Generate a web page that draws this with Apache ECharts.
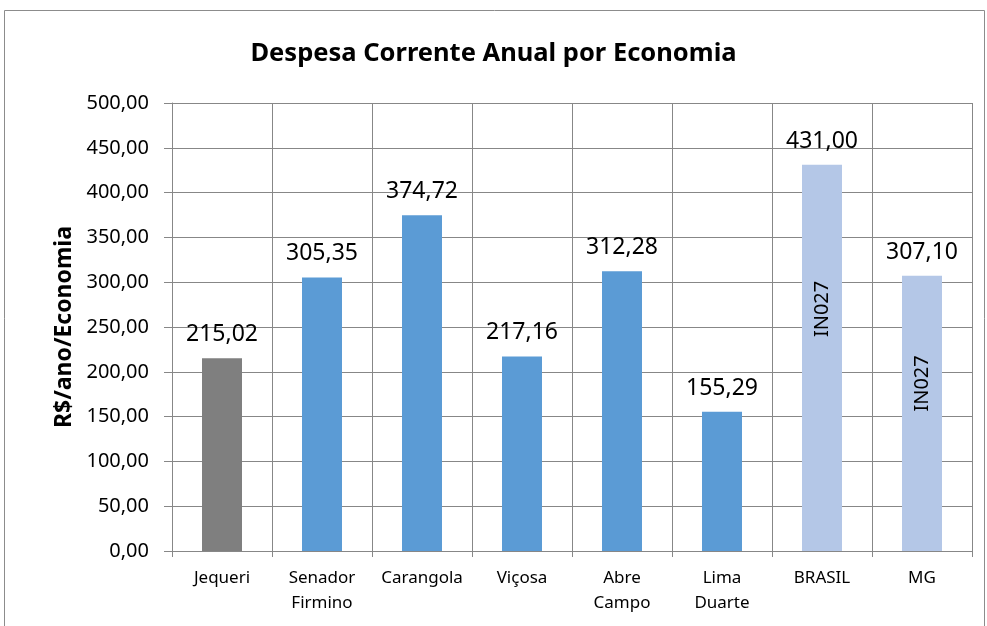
<!DOCTYPE html>
<html>
<head>
<meta charset="utf-8">
<script src="https://cdn.jsdelivr.net/npm/echarts@6/dist/echarts.min.js"></script>
<style>
  html, body { margin: 0; padding: 0; background: #fff; }
  #chart { width: 987px; height: 626px; }
</style>
</head>
<body>
<div id="chart"></div>
<script>
// dados
const categorias = ['Jequeri', 'Senador\nFirmino', 'Carangola', 'Viçosa', 'Abre\nCampo', 'Lima\nDuarte', 'BRASIL', 'MG']
const valores = [215.02, 305.35, 374.72, 217.16, 312.28, 155.29, 431.00, 307.10]
const cores = ['#7f7f7f', '#5b9bd5', '#5b9bd5', '#5b9bd5', '#5b9bd5', '#5b9bd5', '#b4c7e7', '#b4c7e7']
const rotulosInternos = ['', '', '', '', '', '', 'IN027', 'IN027']
const deslocInterno = [0, 0, 0, 0, 0, 0, 49, 30]

const fonte = '"Noto Sans", sans-serif'
const fmt = (v) => v.toFixed(2).replace('.', ',')

const chart = echarts.init(document.getElementById('chart'))
chart.setOption({
  animation: false,
  backgroundColor: '#fff',
  textStyle: { fontFamily: fonte },
  title: {
    text: 'Despesa Corrente Anual por Economia',
    left: 'center',
    top: 36,
    textStyle: { fontFamily: fonte, fontSize: 25.5, fontWeight: 'bold', color: '#000' },
  },
  graphic: [
    {
      type: 'rect',
      shape: { x: 4.5, y: 10.5, width: 980, height: 640 },
      style: { fill: null, stroke: '#8c8c8c', lineWidth: 1 },
      silent: true,
    },
  ],
  grid: { left: 172, right: 15, top: 103, bottom: 75 },
  xAxis: {
    type: 'category',
    data: categorias,
    axisLine: { lineStyle: { color: '#878787' } },
    axisTick: { show: true, interval: 0, length: 6, lineStyle: { color: '#878787' } },
    splitLine: { show: true, interval: 0, lineStyle: { color: '#878787' } },
    axisLabel: { color: '#000', fontSize: 17, lineHeight: 25, margin: 15, interval: 0, fontFamily: fonte },
  },
  yAxis: {
    type: 'value',
    min: 0,
    max: 500,
    interval: 50,
    name: 'R$/ano/Economia',
    nameLocation: 'middle',
    nameGap: 91,
    nameTextStyle: { fontSize: 23, fontWeight: 'bold', color: '#000', fontFamily: fonte },
    axisLine: { show: true, lineStyle: { color: '#878787' } },
    axisTick: { show: true, inside: false, length: 8, lineStyle: { color: '#878787' } },
    splitLine: { show: true, lineStyle: { color: '#878787' } },
    axisLabel: { color: '#000', fontSize: 20, margin: 23, fontFamily: fonte, formatter: fmt },
  },
  series: [
    {
      type: 'bar',
      barWidth: 40,
      data: valores.map((v, i) => ({ value: v, itemStyle: { color: cores[i] } })),
      label: {
        show: true,
        position: 'top',
        distance: 12,
        color: '#000',
        fontSize: 23,
        fontFamily: fonte,
        formatter: (p) => fmt(p.value),
      },
    },
    {
      type: 'bar',
      barWidth: 40,
      barGap: '-100%',
      silent: true,
      itemStyle: { color: 'rgba(0,0,0,0)' },
      data: valores.map((v, i) => ({
        value: v,
        label: {
          show: rotulosInternos[i] !== '',
          position: 'inside',
          rotate: 90,
          offset: [deslocInterno[i], 0],
          formatter: rotulosInternos[i],
          color: '#000',
          fontSize: 20,
          fontFamily: fonte,
        },
      })),
    },
  ],
})
</script>
</body>
</html>
